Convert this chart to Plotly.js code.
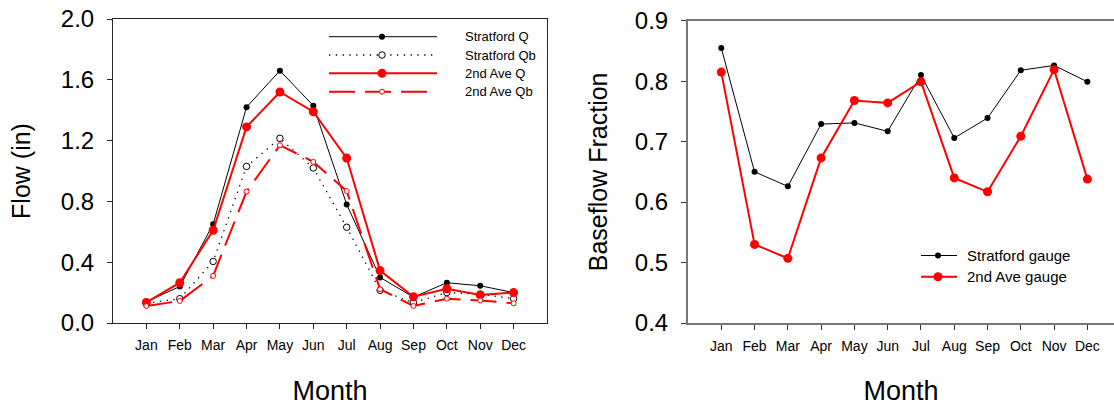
<!DOCTYPE html>
<html>
<head>
<meta charset="utf-8">
<script src="https://cdn.plot.ly/plotly-3.0.1.min.js"></script>
<style>
  html, body { margin: 0; padding: 0; background: #fff; overflow: hidden; }
  #chart { width: 1114px; height: 406px; }
</style>
</head>
<body>
<div id="chart"></div>
<script>
// Monthly flow (inches) and baseflow fraction at the two gauges
const months = ['Jan', 'Feb', 'Mar', 'Apr', 'May', 'Jun', 'Jul', 'Aug', 'Sep', 'Oct', 'Nov', 'Dec'];

const stratfordQ  = [0.14, 0.24, 0.65, 1.42, 1.66, 1.43, 0.78, 0.30, 0.17, 0.265, 0.245, 0.20];
const stratfordQb = [0.13, 0.16, 0.405, 1.03, 1.215, 1.02, 0.63, 0.215, 0.134, 0.20, 0.19, 0.16];
const secondAveQ  = [0.135, 0.265, 0.61, 1.29, 1.52, 1.39, 1.085, 0.345, 0.173, 0.225, 0.185, 0.20];
const secondAveQb = [0.112, 0.145, 0.31, 0.865, 1.17, 1.06, 0.868, 0.222, 0.112, 0.16, 0.148, 0.13];

const stratfordFrac = [0.855, 0.650, 0.626, 0.729, 0.731, 0.717, 0.810, 0.706, 0.739, 0.818, 0.826, 0.799];
const secondAveFrac = [0.815, 0.530, 0.507, 0.673, 0.768, 0.764, 0.799, 0.640, 0.617, 0.709, 0.819, 0.638];

const flowSeriesNames = ['Stratford Q', 'Stratford Qb', '2nd Ave Q', '2nd Ave Qb'];
const fracSeriesNames = ['Stratford gauge', '2nd Ave gauge'];

const FONT = 'Liberation Sans, Arial, Helvetica, sans-serif';
const RED = '#ff0000';

// Figure geometry (pixels) used for margins, domains and the hand-built legends
const W = 1114, H = 406;
const M = { l: 113, r: 0, t: 19, b: 83 };
const plotW = W - M.l - M.r, plotH = H - M.t - M.b;
const px = x => (x - M.l) / plotW;          // page x pixel -> paper fraction
const py = y => (H - M.b - y) / plotH;      // page y pixel -> paper fraction

// Line/marker styles shared by plot traces and legend samples
const flowStyles = [
  { line: { color: '#000', width: 1 }, marker: { symbol: 'circle', size: 6, color: '#000' } },
  { line: { color: '#000', width: 1.3, dash: '1.3px,5.5px' }, marker: { symbol: 'circle', size: 6.5, color: '#fff', line: { color: '#000', width: 1 } } },
  { line: { color: RED, width: 2 }, marker: { symbol: 'circle', size: 9, color: RED } },
  { line: { color: RED, width: 2, dash: '26px,10px' }, marker: { symbol: 'circle', size: 5, color: '#fff', line: { color: RED, width: 1 } } }
];
const fracStyles = [
  { line: { color: '#000', width: 1 }, marker: { symbol: 'circle', size: 6, color: '#000' } },
  { line: { color: RED, width: 2 }, marker: { symbol: 'circle', size: 9, color: RED } }
];

const flowData = [stratfordQ, stratfordQb, secondAveQ, secondAveQb];
const fracData = [stratfordFrac, secondAveFrac];

const traces = [];
flowData.forEach((vals, i) => {
  traces.push({
    type: 'scatter', mode: 'lines+markers', name: flowSeriesNames[i],
    x: months, y: vals, xaxis: 'x', yaxis: 'y',
    line: flowStyles[i].line, marker: flowStyles[i].marker,
    showlegend: false, cliponaxis: false
  });
});
fracData.forEach((vals, i) => {
  traces.push({
    type: 'scatter', mode: 'lines+markers', name: fracSeriesNames[i],
    x: months, y: vals, xaxis: 'x2', yaxis: 'y2',
    line: fracStyles[i].line, marker: fracStyles[i].marker,
    showlegend: false, cliponaxis: false
  });
});

// Legend samples drawn as shapes + annotations
const shapes = [];
const annotations = [];
function legendRow(style, yPix, lx0, lx1, mx, tx, label, fontSize) {
  shapes.push({
    type: 'line', xref: 'paper', yref: 'paper',
    x0: px(lx0), x1: px(lx1), y0: py(yPix), y1: py(yPix),
    line: { color: style.line.color, width: style.line.width, dash: style.line.dash || 'solid' }
  });
  const r = style.marker.size / 2;
  shapes.push({
    type: 'circle', xref: 'paper', yref: 'paper',
    xsizemode: 'pixel', ysizemode: 'pixel',
    xanchor: px(mx), yanchor: py(yPix),
    x0: -r, x1: r, y0: -r, y1: r,
    fillcolor: style.marker.color,
    line: style.marker.line ? { color: style.marker.line.color, width: style.marker.line.width } : { width: 0 }
  });
  annotations.push({
    xref: 'paper', yref: 'paper', x: px(tx), y: py(yPix),
    xanchor: 'left', yanchor: 'middle', showarrow: false,
    text: label, font: { family: FONT, size: fontSize, color: '#000' }
  });
}
const flowRowsY = [36.7, 55, 73.3, 91.7];
flowSeriesNames.forEach((n, i) => legendRow(flowStyles[i], flowRowsY[i], 329, 437, 382, 463, n, 13));
const fracRowsY = [255.5, 276.7];
fracSeriesNames.forEach((n, i) => legendRow(fracStyles[i], fracRowsY[i], 921, 957, 938, 965, n, 15));

const xCommon = {
  type: 'category', showgrid: false, zeroline: false,
  ticks: 'outside', ticklen: 5, tickwidth: 1,
  tickfont: { family: FONT, size: 14, color: '#000' },
  ticklabelstandoff: 4,
  title: { text: 'Month', font: { family: FONT, size: 27, color: '#000' }, standoff: 30 }
};
const yCommon = {
  showgrid: false, zeroline: false,
  ticks: 'outside', ticklen: 5, tickwidth: 1,
  tickfont: { family: FONT, size: 24, color: '#000' },
  tickformat: '.1f', ticklabelstandoff: 8
};

const layout = {
  width: W, height: H,
  margin: M,
  paper_bgcolor: '#fff', plot_bgcolor: 'rgba(0,0,0,0)',
  showlegend: false,
  xaxis: Object.assign({}, xCommon, {
    domain: [0, px(547)], range: [-1, 12],
    showline: true, linecolor: '#222', linewidth: 1, mirror: true, tickcolor: '#222',
    anchor: 'y'
  }),
  yaxis: Object.assign({}, yCommon, {
    domain: [0, 1], range: [0, 2], dtick: 0.4, tick0: 0,
    showline: true, linecolor: '#222', linewidth: 1, mirror: true, tickcolor: '#222',
    title: { text: 'Flow (in)', font: { family: FONT, size: 25, color: '#000' }, standoff: 23 },
    anchor: 'x'
  }),
  xaxis2: Object.assign({}, xCommon, {
    domain: [px(688), 1], range: [-1, 11.8],
    showline: true, linecolor: '#777', linewidth: 2, mirror: true, tickcolor: '#333',
    anchor: 'y2'
  }),
  yaxis2: Object.assign({}, yCommon, {
    domain: [0, py(20.7)], range: [0.4, 0.9], dtick: 0.1, tick0: 0.4,
    showline: true, linecolor: '#777', linewidth: 2, mirror: false, tickcolor: '#333',
    title: { text: 'Baseflow Fraction', font: { family: FONT, size: 25, color: '#000' }, standoff: 20 },
    anchor: 'x2'
  }),
  shapes: shapes,
  annotations: annotations
};

Plotly.newPlot('chart', traces, layout, { staticPlot: true, displayModeBar: false });
</script>
</body>
</html>
